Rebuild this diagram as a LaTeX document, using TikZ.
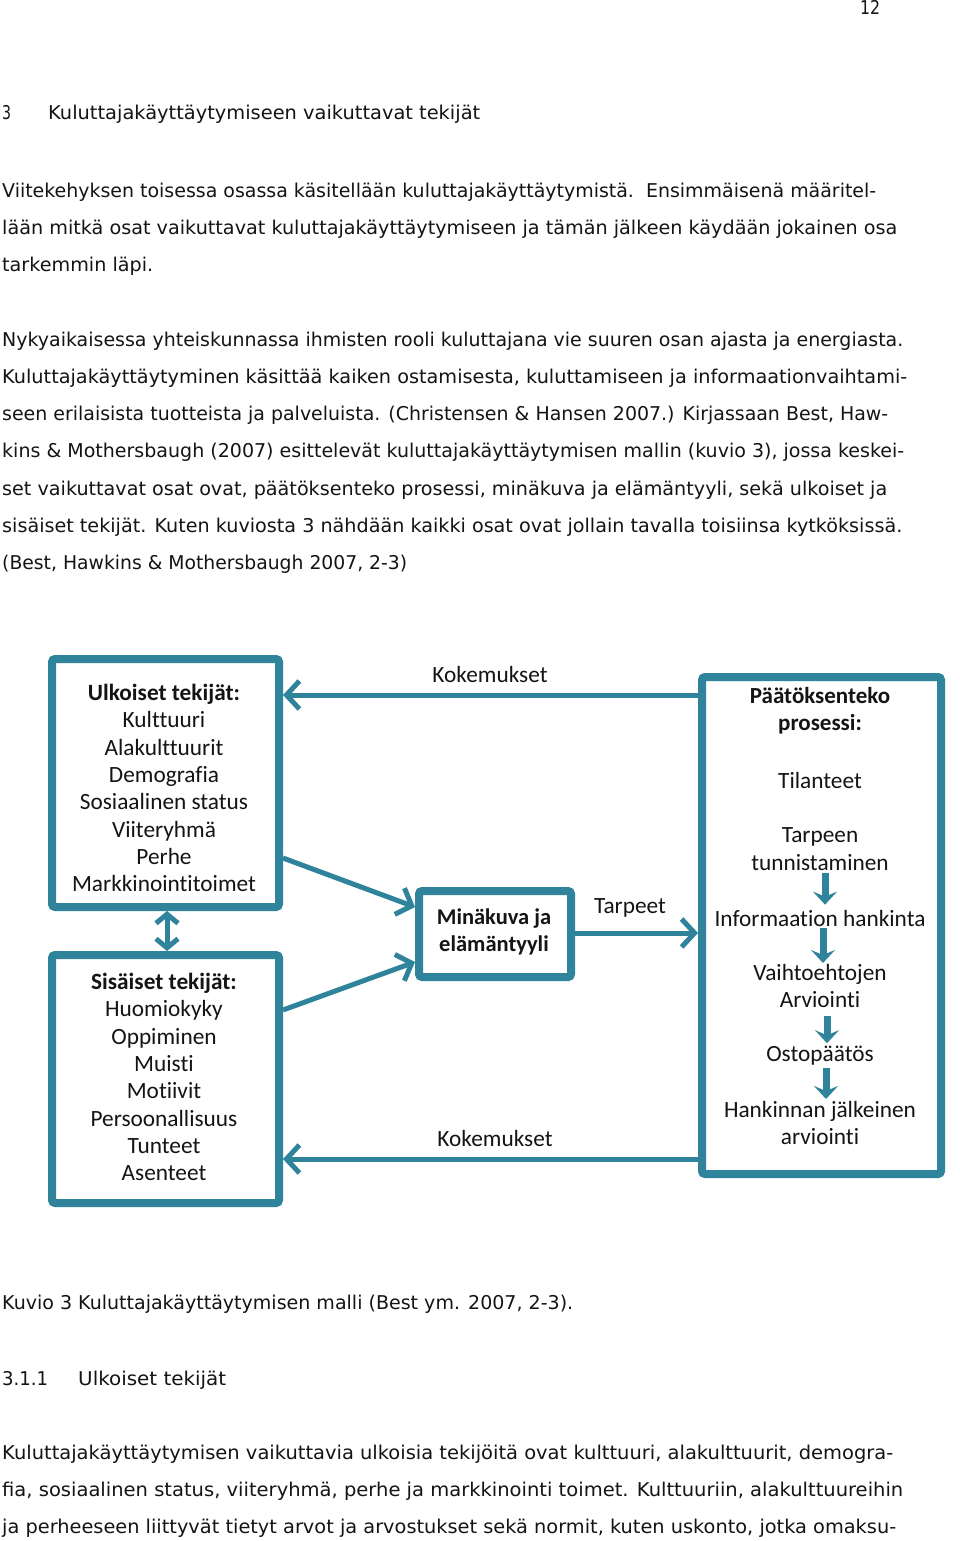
\documentclass[tikz,border=0pt]{standalone}
\usepackage{fontspec}
\setmainfont{DejaVu Sans}
\newfontfamily\diag[Ligatures=NoCommon]{Carlito}
\usetikzlibrary{arrows.meta}
\definecolor{boxc}{RGB}{47,131,155}
\definecolor{ink}{RGB}{20,20,20}
\newcommand\fitw[2]{\resizebox{#1pt}{\height}{#2}}
\begin{document}
\begin{tikzpicture}[x=1pt,y=-1pt,
  txt/.style={anchor=base west, inner sep=0pt, font=\fontsize{19}{19}\selectfont, text=ink},
  bx/.style={draw=boxc, line width=8pt, rounded corners=3pt, fill=white, inner sep=0pt},
  dt/.style={font=\diag\fontsize{23.3}{27.3}\selectfont, text=ink, align=center, inner sep=0pt},
  lbl/.style={font=\diag\fontsize{23.3}{27.3}\selectfont, text=ink, inner sep=0pt},
  conn/.style={draw=boxc, line width=5pt, -{Straight Barb[length=13pt,width=28pt]}},
  dbl/.style={draw=boxc, line width=5pt, {Straight Barb[length=9pt,width=22pt]}-{Straight Barb[length=9pt,width=22pt]}},
  darr/.style={draw=boxc, line width=7pt, -{Stealth[length=13pt,width=24pt,inset=5pt]}}
]
\useasboundingbox (0,0) rectangle (960,1541);
\fill[white] (0,0) rectangle (960,1541);

% page text
\node[txt] (pg) at (860,15) {\fitw{20}{12}};
\node[txt] (hn) at (2,120) {\fitw{9}{3}};
\node[txt] (ht) at (48,120) {\fitw{432}{Kuluttajakäyttäytymiseen vaikuttavat tekijät}};

\node[txt] (a1) at (2,197) {\fitw{874}{Viitekehyksen toisessa osassa käsitellään kuluttajakäyttäytymistä.\ \ Ensimmäisenä määritel-}};
\node[txt] (a2) at (2,234) {\fitw{895}{lään mitkä osat vaikuttavat kuluttajakäyttäytymiseen ja tämän jälkeen käydään jokainen osa}};
\node[txt] (a3) at (2,271) {\fitw{151}{tarkemmin läpi.}};

\node[txt] (b1) at (2,346) {\fitw{901}{Nykyaikaisessa yhteiskunnassa ihmisten rooli kuluttajana vie suuren osan ajasta ja energiasta.}};
\node[txt] (b2) at (2,383) {\fitw{905}{Kuluttajakäyttäytyminen käsittää kaiken ostamisesta, kuluttamiseen ja informaationvaihtami-}};
\node[txt] (b3) at (2,420) {\fitw{886}{seen erilaisista tuotteista ja palveluista. (Christensen \& Hansen 2007.) Kirjassaan Best, Haw-}};
\node[txt] (b4) at (2,457) {\fitw{902}{kins \& Mothersbaugh (2007) esittelevät kuluttajakäyttäytymisen mallin (kuvio 3), jossa keskei-}};
\node[txt] (b5) at (2,495) {\fitw{885}{set vaikuttavat osat ovat, päätöksenteko prosessi, minäkuva ja elämäntyyli, sekä ulkoiset ja}};
\node[txt] (b6) at (2,532) {\fitw{900}{sisäiset tekijät. Kuten kuviosta 3 nähdään kaikki osat ovat jollain tavalla toisiinsa kytköksissä.}};
\node[txt] (b7) at (2,569) {\fitw{405}{(Best, Hawkins \& Mothersbaugh 2007, 2-3)}};

\node[txt] (cap) at (2,1309) {\fitw{571}{Kuvio 3 Kuluttajakäyttäytymisen malli (Best ym. 2007, 2-3).}};
\node[txt] (sn) at (2,1385) {\fitw{46}{3.1.1}};
\node[txt] (st) at (78,1385) {\fitw{148}{Ulkoiset tekijät}};

\node[txt] (c1) at (2,1459) {\fitw{891}{Kuluttajakäyttäytymisen vaikuttavia ulkoisia tekijöitä ovat kulttuuri, alakulttuurit, demogra-}};
\node[txt] (c2) at (2,1496) {\fitw{901}{fia, sosiaalinen status, viiteryhmä, perhe ja markkinointi toimet. Kulttuuriin, alakulttuureihin}};
\node[txt] (c3) at (2,1533) {\fitw{894}{ja perheeseen liittyvät tietyt arvot ja arvostukset sekä normit, kuten uskonto, jotka omaksu-}};

% diagram boxes
\node[bx, minimum width=227pt, minimum height=248pt] (U) at (165.5,783) {};
\node[bx, minimum width=227pt, minimum height=248pt] (S) at (165.5,1079) {};
\node[bx, minimum width=152pt, minimum height=86pt] (M) at (495,934) {};
\node[bx, minimum width=239pt, minimum height=497pt] (P) at (821.5,925.5) {};

% box texts
\node[dt] (Ut) at (164,788) {\textbf{Ulkoiset tekijät:}\\Kulttuuri\\Alakulttuurit\\Demografia\\Sosiaalinen status\\Viiteryhmä\\Perhe\\Markkinointitoimet};
\node[dt] (St) at (164,1077) {\textbf{Sisäiset tekijät:}\\Huomiokyky\\Oppiminen\\Muisti\\Motiivit\\Persoonallisuus\\Tunteet\\Asenteet};
\node[dt, font=\diag\bfseries\fontsize{22.5}{27.3}\selectfont] (Mt) at (494,932) {Minäkuva ja\\elämäntyyli};
\node[dt, font=\diag\bfseries\fontsize{23}{27.3}\selectfont] (P1) at (820,711) {Päätöksenteko\\prosessi:};
\node[dt] (P2) at (820,780) {Tilanteet};
\node[dt] (P3) at (820,849) {Tarpeen\\tunnistaminen};
\node[dt] (P4) at (820,918) {Informaation hankinta};
\node[dt] (P5) at (820,986) {Vaihtoehtojen\\Arviointi};
\node[dt] (P6) at (820,1056) {Ostopäätös};
\node[dt] (P7) at (820,1123) {Hankinnan jälkeinen\\arviointi};

% connectors
\coordinate (k1) at (0,695);
\coordinate (k2) at (0,1159);
\draw[conn] (k1 -| P.west) -- (k1 -| U.east);
\draw[conn] (k2 -| P.west) -- (k2 -| S.east);
\draw[conn] ([yshift=-75pt]U.east) -- ([yshift=27pt]M.west);
\draw[conn] ([yshift=69pt]S.east) -- ([yshift=-28pt]M.west);
\draw[conn] ([yshift=1pt]M.east) -- ([yshift=1pt]M.east -| P.west);
\draw[dbl] ([xshift=1.5pt]U.south) -- ([xshift=1.5pt]S.north);

\node[lbl] (L1) at (490,674) {Kokemukset};
\node[lbl] (L2) at (630,908) {Tarpeet};
\node[lbl] (L3) at (495,1138) {Kokemukset};

% process arrows
\draw[darr] ([xshift=5pt,yshift=-3pt]P3.south) -- ([xshift=5pt,yshift=5pt]P4.north);
\draw[darr] ([xshift=3pt,yshift=-2pt]P4.south) -- ([xshift=3pt,yshift=1pt]P5.north);
\draw[darr] ([xshift=7pt,yshift=-8pt]P5.south) -- ([xshift=7pt,yshift=3pt]P6.north);
\draw[darr] ([xshift=6pt,yshift=-2pt]P6.south) -- ([xshift=6pt,yshift=2pt]P7.north);
\end{tikzpicture}
\end{document}
